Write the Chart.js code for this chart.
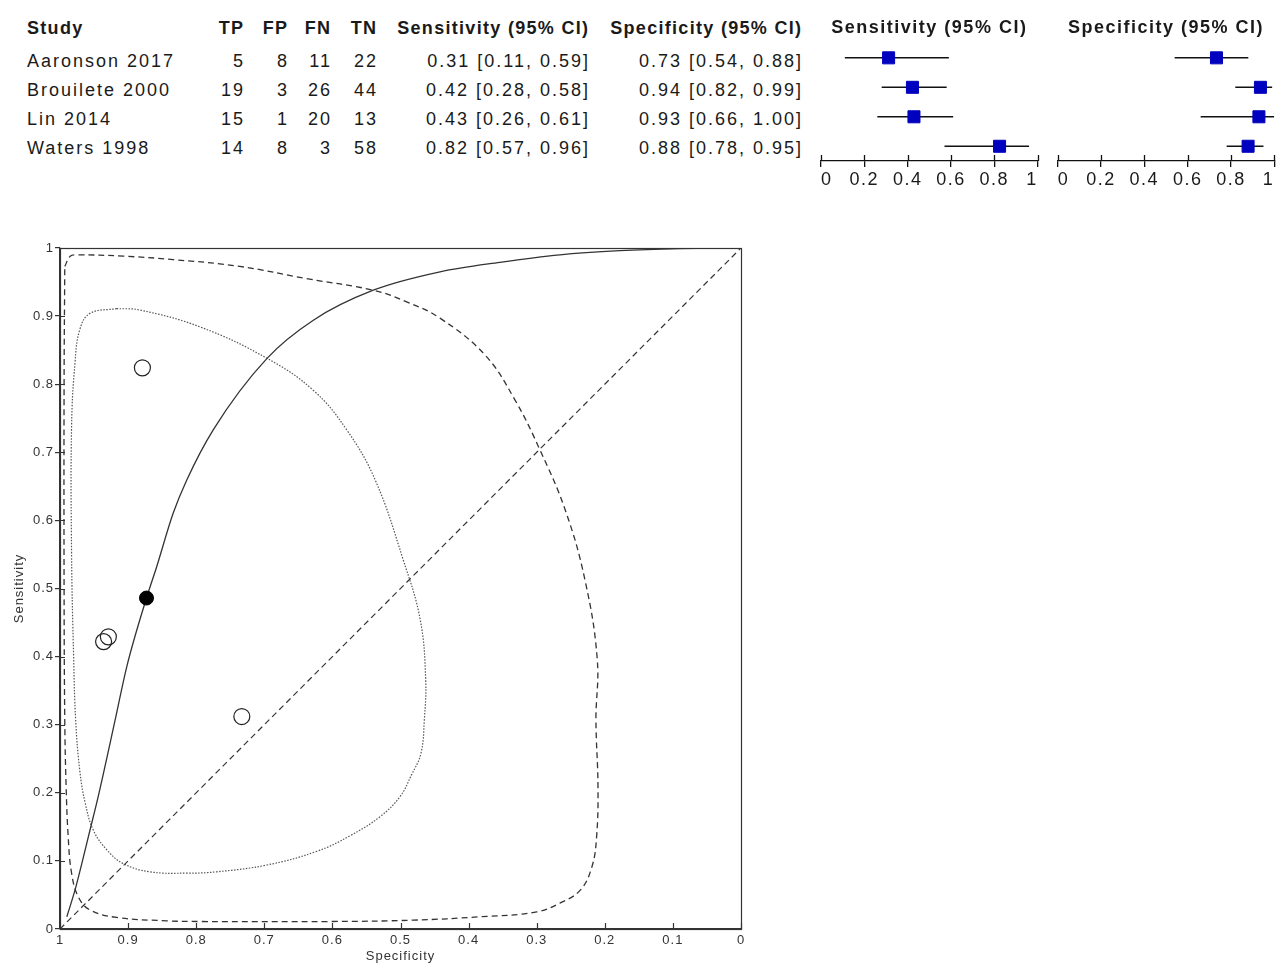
<!DOCTYPE html>
<html>
<head>
<meta charset="utf-8">
<title>Forest plot and SROC</title>
<script src="https://cdn.jsdelivr.net/npm/chart.js@4.4.1/dist/chart.umd.min.js"></script>
<style>
  html, body { margin: 0; padding: 0; background: #fff; }
  #page { position: relative; width: 1287px; height: 978px; overflow: hidden;
          font-family: 'Liberation Sans', Arial, sans-serif; color: #1a1a1a; }
  .cell { position: absolute; font-size: 18px; line-height: 22px; letter-spacing: 2px; white-space: nowrap; }
  .head { font-weight: bold; letter-spacing: 1.3px; }
  canvas { position: absolute; }
</style>
</head>
<body>
<div id="page">
  <div id="table"></div>
  <canvas id="sensForest" width="255" height="200" style="left:800px;top:0"></canvas>
  <canvas id="specForest" width="247" height="200" style="left:1040px;top:0"></canvas>
  <canvas id="sroc" width="770" height="748" style="left:0;top:230px"></canvas>
</div>
<script>
// Study data
const studies = ['Aaronson 2017', 'Brouilete 2000', 'Lin 2014', 'Waters 1998'];
const tp = [5, 19, 15, 14];
const fp = [8, 3, 1, 8];
const fn = [11, 26, 20, 3];
const tn = [22, 44, 13, 58];

const sens = [0.312, 0.422, 0.429, 0.824];
const sensLo = [0.11, 0.28, 0.26, 0.57];
const sensHi = [0.59, 0.58, 0.61, 0.96];
const spec = [0.733, 0.936, 0.929, 0.879];
const specLo = [0.54, 0.82, 0.66, 0.78];
const specHi = [0.88, 0.99, 1.00, 0.95];

// Summary point
const summarySpec = [0.873];
const summarySens = [0.486];

// SROC curve
const srocSpec = [0.990, 0.978, 0.968, 0.956, 0.944, 0.919, 0.902, 0.873, 0.858, 0.834, 0.814, 0.775, 0.696, 0.628, 0.540, 0.442, 0.354, 0.266, 0.178, 0.090, 0.0];
const srocSens = [0.018, 0.057, 0.096, 0.145, 0.194, 0.307, 0.385, 0.486, 0.532, 0.610, 0.659, 0.733, 0.838, 0.894, 0.938, 0.965, 0.979, 0.990, 0.996, 0.999, 1.0];

// 95% confidence region (dotted)
const confSpec = [0.917, 0.883, 0.794, 0.696, 0.628, 0.579, 0.537, 0.496, 0.471, 0.463, 0.465, 0.470, 0.484, 0.501, 0.530, 0.574, 0.623, 0.696, 0.770, 0.814, 0.868, 0.907, 0.931, 0.951, 0.963, 0.971, 0.977, 0.980, 0.983, 0.983, 0.978, 0.971, 0.956, 0.917];
const confSens = [0.911, 0.909, 0.884, 0.838, 0.791, 0.733, 0.659, 0.542, 0.454, 0.366, 0.307, 0.258, 0.226, 0.194, 0.165, 0.137, 0.114, 0.094, 0.084, 0.082, 0.084, 0.096, 0.116, 0.145, 0.185, 0.233, 0.307, 0.400, 0.550, 0.738, 0.831, 0.880, 0.904, 0.911];

// 95% prediction region (dashed)
const predSpec = [0.993, 0.985, 0.976, 0.907, 0.834, 0.736, 0.638, 0.540, 0.491, 0.442, 0.376, 0.332, 0.295, 0.258, 0.229, 0.211, 0.213, 0.210, 0.212, 0.219, 0.236, 0.266, 0.300, 0.383, 0.481, 0.600, 0.794, 0.843, 0.917, 0.956, 0.973, 0.983, 0.988, 0.991, 0.993, 0.994, 0.994, 0.993];
const predSens = [0.973, 0.988, 0.990, 0.988, 0.983, 0.973, 0.955, 0.938, 0.921, 0.897, 0.843, 0.777, 0.703, 0.615, 0.512, 0.395, 0.307, 0.209, 0.136, 0.091, 0.057, 0.038, 0.025, 0.018, 0.013, 0.011, 0.011, 0.012, 0.017, 0.028, 0.047, 0.082, 0.136, 0.209, 0.307, 0.500, 0.800, 0.973];

// Chance line
const diagSpec = [1, 0];
const diagSens = [0, 1];

const FONT = "'Liberation Sans', Arial, sans-serif";
Chart.defaults.font.family = FONT;

function toPoints(xs, ys) {
    return xs.map((x, i) => ({ x: x, y: ys[i] }));
}

function fmtCI(est, lo, hi, i) {
    return `${est[i].toFixed(2)} [${lo[i].toFixed(2)}, ${hi[i].toFixed(2)}]`;
}

// plain tick text: 1, 0.9, 0.2 ...
const tickText = v => String(Math.round(v * 10) / 10);

// Table (text columns)
function buildTable() {
    const columns = [
        { head: 'Study', left: 27, get: i => studies[i] },
        { head: 'TP', right: 243, get: i => tp[i] },
        { head: 'FP', right: 287, get: i => fp[i] },
        { head: 'FN', right: 330, get: i => fn[i] },
        { head: 'TN', right: 376, get: i => tn[i] },
        { head: 'Sensitivity (95% CI)', right: 588, get: i => fmtCI(sens, sensLo, sensHi, i) },
        { head: 'Specificity (95% CI)', right: 801, get: i => fmtCI(spec, specLo, specHi, i) }
    ];
    const table = document.getElementById('table');
    const place = (el, col, center, spacing) => {
        el.style.top = (center - 11) + 'px';
        if (col.left !== undefined) el.style.left = col.left + 'px';
        else el.style.right = (1287 - col.right - spacing) + 'px';
        table.appendChild(el);
    };
    columns.forEach(col => {
        const h = document.createElement('div');
        h.className = 'cell head';
        h.textContent = col.head;
        place(h, col, 28, 1.3);
        studies.forEach((s, i) => {
            const c = document.createElement('div');
            c.className = 'cell';
            c.textContent = col.get(i);
            place(c, col, 61 + 29 * i, 2);
        });
    });
}

// Draws the inner half of tick marks, an optional frame, and sets letter spacing
const tickInside = {
    id: 'tickInside',
    beforeDraw(chart, args, opts) {
        chart.ctx.letterSpacing = opts.spacing || '0px';
    },
    afterDraw(chart, args, opts) {
        const { ctx, chartArea } = chart;
        ctx.save();
        ctx.strokeStyle = opts.color;
        ctx.lineWidth = opts.width;
        ctx.beginPath();
        const xs = chart.scales.x;
        xs.ticks.forEach(t => {
            const px = Math.round(xs.getPixelForValue(t.value)) + 0.5;
            ctx.moveTo(px, chartArea.bottom);
            ctx.lineTo(px, chartArea.bottom - opts.xLen);
        });
        if (opts.yLen) {
            const ys = chart.scales.y;
            ys.ticks.forEach(t => {
                const py = Math.round(ys.getPixelForValue(t.value)) + 0.5;
                ctx.moveTo(chartArea.left, py);
                ctx.lineTo(chartArea.left + opts.yLen, py);
            });
        }
        ctx.stroke();
        if (opts.box) {
            ctx.strokeRect(Math.round(chartArea.left) + 0.5, Math.round(chartArea.top) + 0.5,
                Math.round(chartArea.width), Math.round(chartArea.height));
        }
        ctx.restore();
    }
};

function forestChart(id, est, lo, hi, title, padLeft, padRight) {
    const ciLines = studies.map((s, i) => ({
        data: [{ x: lo[i], y: i }, { x: hi[i], y: i }],
        showLine: true,
        borderColor: '#111',
        borderWidth: 1.5,
        pointRadius: 0
    }));
    return new Chart(document.getElementById(id), {
        type: 'scatter',
        data: {
            datasets: [{
                data: toPoints(est, studies.map((s, i) => i)),
                pointStyle: 'rect',
                pointRadius: 8.5,
                backgroundColor: '#0000bf',
                borderColor: '#0000bf',
                borderWidth: 1
            }, ...ciLines]
        },
        options: {
            responsive: false,
            animation: false,
            devicePixelRatio: 1,
            layout: { padding: { left: padLeft, right: padRight, top: 0, bottom: 0 } },
            plugins: {
                legend: { display: false },
                tooltip: { enabled: false },
                title: {
                    display: true,
                    text: title,
                    color: '#1a1a1a',
                    font: { size: 18, weight: 'bold' },
                    padding: { top: 17.5, bottom: 4 }
                },
                tickInside: { color: '#111', width: 1.3, xLen: 6, spacing: '1.5px' }
            },
            scales: {
                x: {
                    type: 'linear', min: 0, max: 1,
                    ticks: { stepSize: 0.2, autoSkip: false, maxRotation: 0, align: 'inner', color: '#1a1a1a', font: { size: 18 }, padding: 2, callback: tickText },
                    grid: { drawOnChartArea: false, tickLength: 6, color: '#111', lineWidth: 1.3 },
                    border: { color: '#111', width: 1.3 },
                    afterFit: s => { s.height = 39; }
                },
                y: { type: 'linear', min: -0.5, max: 3.5, reverse: true, display: false }
            }
        },
        plugins: [tickInside]
    });
}

function srocChart() {
    return new Chart(document.getElementById('sroc'), {
        type: 'scatter',
        data: {
            datasets: [{
                label: 'Studies',
                data: toPoints(spec, sens),
                pointRadius: 8,
                borderColor: '#222',
                borderWidth: 1.2,
                backgroundColor: 'rgba(0,0,0,0)'
            }, {
                label: 'Summary',
                data: toPoints(summarySpec, summarySens),
                pointRadius: 7,
                borderColor: '#000',
                backgroundColor: '#000'
            }, {
                label: 'SROC',
                data: toPoints(srocSpec, srocSens),
                showLine: true, pointRadius: 0, cubicInterpolationMode: 'monotone',
                borderColor: '#333', borderWidth: 1.3
            }, {
                label: 'Confidence region',
                data: toPoints(confSpec, confSens),
                showLine: true, pointRadius: 0, tension: 0.4,
                borderColor: '#555', borderWidth: 1.2, borderDash: [1.5, 1.5]
            }, {
                label: 'Prediction region',
                data: toPoints(predSpec, predSens),
                showLine: true, pointRadius: 0, tension: 0.4,
                borderColor: '#333', borderWidth: 1.3, borderDash: [6, 4]
            }, {
                label: 'Chance',
                data: toPoints(diagSpec, diagSens),
                showLine: true, pointRadius: 0,
                borderColor: '#333', borderWidth: 1.2, borderDash: [6, 4]
            }]
        },
        options: {
            responsive: false,
            animation: false,
            devicePixelRatio: 1,
            layout: { padding: { left: 0, right: 29, top: 18, bottom: 4 } },
            plugins: {
                legend: { display: false },
                tooltip: { enabled: false },
                tickInside: { color: '#333', width: 1.2, xLen: 6, yLen: 5, box: true, spacing: '1px' }
            },
            scales: {
                x: {
                    type: 'linear', min: 0, max: 1, reverse: true,
                    ticks: { stepSize: 0.1, autoSkip: false, maxRotation: 0, color: '#333', font: { size: 13 }, padding: 4, callback: tickText },
                    grid: { drawOnChartArea: false, drawTicks: false },
                    border: { color: '#333', width: 1.2 },
                    title: { display: true, text: 'Specificity', color: '#333', font: { size: 13 }, padding: { top: 0, bottom: 10 } },
                    afterFit: s => { s.height = 45; }
                },
                y: {
                    type: 'linear', min: 0, max: 1,
                    ticks: { stepSize: 0.1, autoSkip: false, color: '#333', font: { size: 13 }, padding: 1, callback: tickText },
                    grid: { drawOnChartArea: false, tickLength: 5, color: '#333', lineWidth: 1.2 },
                    border: { color: '#333', width: 1.2 },
                    title: { display: true, text: 'Sensitivity', color: '#333', font: { size: 13 }, padding: { top: 12, bottom: 0 } },
                    afterFit: s => { s.width = 60; }
                }
            }
        },
        plugins: [tickInside]
    });
}

buildTable();
forestChart('sensForest', sens, sensLo, sensHi, 'Sensitivity (95% CI)', 21, 17.3);
forestChart('specForest', spec, specLo, specHi, 'Specificity (95% CI)', 17.7, 12.7);
srocChart();
</script>
</body>
</html>
